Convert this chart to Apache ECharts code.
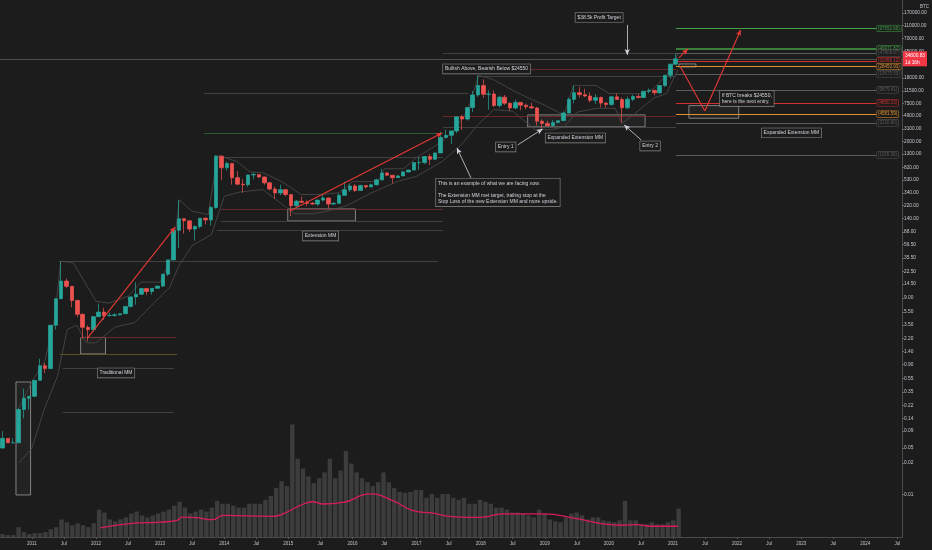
<!DOCTYPE html>
<html><head><meta charset="utf-8">
<script src="https://cdn.jsdelivr.net/npm/echarts@6/dist/echarts.min.js"></script>
<style>html,body{margin:0;background:#1c1c1c}#c{width:932px;height:550px}</style>
</head><body><div id="c"></div><script>
// ---------------- DATA ----------------
const firstMonth = [2010, 7];
const opens = [
 0.05,0.07,0.06,0.06,0.19,0.28,
 0.30,0.52,0.86,0.78,3.50,8.70,16.10,13.40,8.20,5.10,3.25,3.00,
 4.70,5.50,4.90,4.90,5.00,5.20,6.70,9.30,10.20,12.40,11.20,12.50,
 13.50,20.40,33.40,93.0,139.0,129.0,97.0,106.0,141.0,133.0,204.0,1205.0,
 805,938,573,458,448,630,640,586,479,386,338,378,
 320,217,254,244,236,230,264,284,230,236,311,377,
 430,368,436,416,448,531,673,624,573,608,699,744,
 964,965,1190,1080,1348,2300,2480,2875,4700,4340,6470,10000,
 13850,10220,10320,6930,9240,7500,6390,7730,7010,6630,6370,4040,
 3740,3460,3850,4110,5350,8580,10820,10090,9630,8300,9150,7550,
 7190,9350,8540,6410,8620,9450,9140,11350,11650,10780,13800,19700,
 28990];
const highs = [
 0.09,0.07,0.07,0.20,0.39,0.30,
 0.52,1.10,0.95,3.50,8.90,31.90,17.50,13.50,8.50,5.20,3.50,4.80,
 7.40,6.40,5.40,5.30,5.20,6.80,9.40,15.40,12.50,12.50,12.60,13.70,
 20.60,33.40,95.0,266.0,140.0,130.0,110.0,141.0,146.0,216.0,1242.0,1240.0,
 1000,940,720,545,635,680,640,595,495,420,450,385,
 320,265,300,262,247,268,318,287,245,334,500,467,
 462,448,440,466,550,780,704,626,627,720,755,975,
 1150,1200,1300,1350,2790,3000,2930,4750,4980,6470,11400,19670,
 17170,11790,11700,9760,9980,7760,8500,7760,7410,7680,6600,4290,
 4110,4190,4140,5640,9070,13880,13200,12330,10900,10370,9520,7740,
 9580,10500,9190,9470,10080,10380,11450,12480,12080,14100,19860,29300,
 41950];
const lows = [
 0.05,0.06,0.06,0.06,0.14,0.19,
 0.29,0.52,0.67,0.78,3.00,8.70,12.50,6.50,4.60,2.20,2.00,2.80,
 4.70,4.20,4.70,4.70,4.90,5.20,6.40,7.10,9.90,9.90,10.10,12.50,
 13.20,19.20,33.40,50.0,83.0,88.0,65.0,99.0,114.0,109.0,196.0,522.0,
 735,450,440,340,420,540,565,450,370,275,312,300,
 152,210,240,214,225,217,252,198,225,235,304,350,
 350,365,395,412,437,516,605,470,570,604,685,742,
 752,915,890,1060,1340,2270,1840,2670,2970,4110,5560,9400,
 9100,6000,6600,6430,7060,5760,6070,5880,6100,6200,3470,3120,
 3390,3370,3760,4080,5330,7500,9100,9360,7730,7300,6520,6430,
 6850,8450,3850,6150,8110,8900,8990,10560,9850,10420,13240,17570,
 28000];
const closes = [
 0.07,0.06,0.06,0.19,0.28,0.30,
 0.52,0.86,0.78,3.50,8.70,16.10,13.40,8.20,5.10,3.25,3.00,4.70,
 5.50,4.90,4.90,5.00,5.20,6.70,9.30,10.20,12.40,11.20,12.50,13.50,
 20.40,33.40,93.0,139.0,129.0,97.0,106.0,141.0,133.0,204.0,1205.0,805.0,
 938,573,458,448,630,640,586,479,386,338,378,320,
 217,254,244,236,230,264,284,230,236,311,377,430,
 368,436,416,448,531,673,624,573,608,699,744,964,
 965,1190,1080,1348,2300,2480,2875,4700,4340,6470,10000,13850,
 10220,10320,6930,9240,7500,6390,7730,7010,6630,6370,4040,3740,
 3460,3850,4110,5350,8580,10820,10090,9630,8300,9150,7550,7190,
 9350,8540,6410,8620,9450,9140,11350,11650,10780,13800,19700,28990,
 34800.83];
const volumes = [
 3,2,2,10,5,3,
 4,4,5,8,10,18,15,12,14,12,10,14,
 28,25,18,16,18,20,24,26,22,20,22,24,
 26,28,32,36,30,24,26,28,26,30,37,34,
 34,32,30,30,34,34,34,38,42,50,57,52,
 115,80,70,62,55,60,66,80,60,68,88,75,
 66,60,56,52,56,66,56,50,46,45,46,48,
 48,40,44,40,44,44,40,38,40,34,34,38,
 36,34,30,30,28,25,25,24,22,20,28,24,
 18,16,15,20,24,25,22,18,20,20,17,16,
 15,17,37,17,17,13,13,15,13,13,15,17,
 29];
const volMA = [[2012.06,9.3],[2012.52,13.7],[2012.99,15.3],[2013.25,17],[2013.33,20.3],[2013.56,19.7],[2013.81,17.7],[2013.97,22],[2014.74,21],[2014.90,23.7],[2015.16,32],[2015.36,36],[2015.52,33.7],[2015.83,35.3],[2016.25,44],[2016.61,37],[2016.92,27],[2017.23,24.3],[2017.49,21],[2017.80,20],[2018.00,20.3],[2018.31,23.7],[2018.93,23.7],[2019.46,18.7],[2019.81,14],[2020.17,12],[2020.39,12.7],[2020.60,11],[2021.03,11]];
const upperBand = [[2010.8,0.2],[2011.0,0.5],[2011.2,1.0],[2011.35,4.0],[2011.45,32],[2011.65,30],[2011.8,17],[2012.0,8],[2012.2,7.5],[2012.5,9.5],[2012.7,15.5],[2013.0,15.5],[2013.2,40],[2013.3,266],[2013.5,180],[2013.75,160],[2013.9,1240],[2014.2,1000],[2014.4,700],[2014.6,680],[2014.9,500],[2015.2,320],[2015.5,320],[2015.8,340],[2016.0,500],[2016.4,500],[2016.5,780],[2016.8,780],[2017.0,1150],[2017.4,2000],[2017.6,3000],[2017.8,6000],[2017.97,19700],[2018.2,17000],[2018.5,11700],[2018.8,8500],[2019.0,7000],[2019.3,5000],[2019.45,13900],[2019.8,13900],[2020.0,10500],[2020.2,10500],[2020.5,10400],[2020.7,12500],[2020.9,19900],[2021.0,29500],[2021.08,42000]];
const lowerBand = [[2010.8,0.03],[2011.0,0.05],[2011.2,0.2],[2011.4,0.6],[2011.55,3.0],[2011.7,3.5],[2011.85,1.9],[2012.0,1.9],[2012.3,3.3],[2012.6,3.8],[2012.9,7.5],[2013.15,13],[2013.3,28],[2013.5,55],[2013.8,80],[2014.0,300],[2014.25,350],[2014.6,380],[2014.9,230],[2015.1,165],[2015.4,165],[2015.65,185],[2015.9,215],[2016.3,340],[2016.7,500],[2017.0,600],[2017.4,1000],[2017.7,1800],[2017.95,3500],[2018.2,6000],[2018.5,5700],[2018.85,3000],[2019.1,3000],[2019.3,3300],[2019.5,5500],[2019.8,6300],[2020.1,6300],[2020.2,3700],[2020.4,5200],[2020.7,9000],[2020.9,10500],[2021.0,17000],[2021.08,24000]];
const yTickValues = [170000,110000,70000,45000,18000,11500,7500,4900,3100,2000,1300,820,530,340,220,140,88,56.5,35.5,22.5,14.5,9,5.5,3.5,2.2,1.4,0.9,0.55,0.35,0.22,0.14,0.09,0.05,0.03,0.01];
const yTickTexts = ['170000.00','110000.00','70000.00','45000.00','18000.00','11500.00','7500.00','4900.00','3100.00','2000.00','1300.00','820.00','530.00','340.00','220.00','140.00','88.00','56.50','35.50','22.50','14.50','9.00','5.50','3.50','2.20','1.40','0.90','0.55','0.35','0.22','0.14','0.09','0.05','0.02','0.01'];
const xTickValues = [2011,2011.5,2012,2012.5,2013,2013.5,2014,2014.5,2015,2015.5,2016,2016.5,2017,2017.5,2018,2018.5,2019,2019.5,2020,2020.5,2021,2021.5,2022,2022.5,2023,2023.5,2024,2024.5];
const lastPrice = 34800.83;
const lastPriceTimer = '1d 16h';
// horizontal levels [fromYear, toYear, price]
const segGray = [[2011.419,2017.335,31.9],[2011.481,2013.220,0.80],[2011.481,2013.220,0.174],[2013.888,2017.413,1161],[2013.686,2017.801,10720],[2013.95,2017.413,128.3],[2013.888,2017.413,94],[2017.413,2021.047,42700],[2017.957,2021.047,19300],[2017.413,2021.047,3310]];
const segGreen = [[2013.686,2017.413,2690]];
const segRed = [[2011.745,2013.252,2.29],[2013.95,2017.413,194],[2017.413,2021.047,24550],[2017.413,2021.047,4842]];
const segOrange = [[2011.435,2013.267,1.29]];
const levelFrom = 2021.047, levelTo = 2024.168;
const levelPrices = [99600,49000,42700,32400,26700,20650,11900,7590,5150,3800,1258];
const levelTexts = ['(97652.60)','(49971.82)','(47808.87)','(32456.12)','(28453.93)','(19675.50)','(9875.41)','(4850.23)','(4581.59)','(3130.80)','(1165.99)'];
const levelKinds = ['green','green','gray','red','orange','gray','gray','red','orange','gray','gray'];
// drawings in data space
const redArrows = [[[2011.870,2.25],[2013.236,104.3]],[[2015.022,181.4],[2017.398,2690]],[[2021.093,35950],[2021.233,49000]],[[2021.109,27240],[2021.497,5754],[2022.056,94500]]];
const whiteArrows = [[[2020.286,112400],[2020.286,39860]],[[2018.578,1776],[2018.966,3089]],[[2020.503,2111],[2020.239,3547]],[[2017.848,568],[2017.630,1601]]];
const boxes = [[2010.752,0.491,2010.980,0.0099],[2011.761,2.29,2012.149,1.294],[2014.991,194.4,2016.047,128.3],[2018.733,5016,2020.565,3310],[2021.248,6912,2022.025,4470],[2021.093,29220,2021.357,26330]];
const noteAnchors = [[2019.478,145900],[2017.413,24540],[2018.236,1657],[2019.012,2262],[2020.488,1716],[2012.025,0.671],[2015.224,76.4],[2017.304,343.7],[2021.730,8862],[2022.382,2690]];
const noteTexts = ['$38.5k Profit Target','Bullish Above, Bearish Below $24550','Entry 1','Expanded Extension MM','Entry 2','Traditional MM','Extension MM',
 'This is an example of what we are facing now.\n\nThe Extension MM met target, trailing stop at the\nStop Loss of the new Extension MM and more upside.',
 'If BTC breaks $24550,\nhere is the next entry.','Expanded Extension MM'];

// ---------------- BUILD ----------------
const BG='#1c1c1c', UP='#26a69a', DOWN='#ef5350', TXT='#c3c6cd', FONT='Liberation Sans';
const monthTimes = opens.map((_, i) => {
  const m0 = firstMonth[1] - 1 + i;
  const y = firstMonth[0] + Math.floor(m0 / 12), m = m0 % 12;
  return y + (m + 0.5) / 12;
});
const candleData = monthTimes.map((t, i) => [t, opens[i], closes[i], lows[i], highs[i]]);
const volData = monthTimes.map((t, i) => [t, volumes[i]]);
const kindColor = {gray:'#5c5c5c', green:'#43a047', red:'#d32f2f', orange:'#e0912b'};
const faint = {gray:'#4a4a4a', green:'#2f6b33', red:'#7a2b2b', orange:'#6f5a28'};
function seg(list, color, w) {
  return list.map(s => [{coord:[s[0], s[2]], symbol:'none', lineStyle:{color, width:w||0.8, type:'solid'}}, {coord:[s[1], s[2]], symbol:'none'}]);
}
const markLines = [].concat(
  seg(segGray, faint.gray), seg(segGreen, faint.green), seg(segRed, faint.red), seg(segOrange, faint.orange),
  levelPrices.map((p, i) => {
    const c = kindColor[levelKinds[i]];
    return [{coord:[levelFrom, p], symbol:'none', lineStyle:{color:c, width: i===1?1.6:1, type:'solid'},
             label:{show:true, position:'end', distance:1, formatter:levelTexts[i], color:c, fontSize:4.5, fontFamily:FONT,
                    backgroundColor:BG, borderColor:c, borderWidth:0.5, padding:[0.5,1]}},
            {coord:[levelTo, p], symbol:'none'}];
  })
);
function arrowLines(list, color, w) {
  const out = [];
  list.forEach(path => {
    for (let k = 0; k < path.length - 1; k++) {
      const last = k === path.length - 2;
      out.push([{coord:path[k], symbol:'none', lineStyle:{color, width:w, type:'solid'}},
                {coord:path[k+1], symbol: last ? 'arrow' : 'none', symbolSize: last ? [4,6] : 0}]);
    }
  });
  return out;
}
const drawLines = [].concat(arrowLines(redArrows, '#e53935', 1.1), arrowLines(whiteArrows, '#d1d4dc', 0.8));
const areaData = boxes.map(b => [{coord:[b[0], b[1]]}, {coord:[b[2], b[3]]}]);
const notePoints = noteAnchors.map((a, i) => ({coord:a, label:{formatter:noteTexts[i]}}));

const chart = echarts.init(document.getElementById('c'), null, {renderer:'canvas'});
chart.setOption({
  backgroundColor: BG,
  animation: false,
  grid: [
    {left:0, right:26, top:0, bottom:13},
    {left:0, right:26, top:400, bottom:13}
  ],
  xAxis: [
    {type:'value', gridIndex:0, min:2010.503, max:2024.572, splitLine:{show:false},
     axisLine:{show:true, lineStyle:{color:'#4a4a4a', width:1}},
     axisTick:{show:true, customValues:xTickValues, length:2, lineStyle:{color:'#555'}},
     axisLabel:{customValues:xTickValues, color:TXT, fontSize:4.5, fontFamily:FONT, margin:4,
       formatter: v => (Math.abs(v - Math.round(v)) < 1e-6 ? String(Math.round(v)) : 'Jul')}},
    {type:'value', gridIndex:1, min:2010.503, max:2024.572, show:false}
  ],
  yAxis: [
    {type:'log', gridIndex:0, position:'right', min:0.002315, max:266000, splitLine:{show:false},
     name:'BTC', nameLocation:'end', nameGap:-9, nameTextStyle:{color:TXT, fontSize:4.5, fontFamily:FONT, align:'left', padding:[0,0,0,18]},
     axisLine:{show:true, lineStyle:{color:'#4a4a4a', width:1}},
     axisTick:{show:true, customValues:yTickValues, length:2, lineStyle:{color:'#666'}},
     axisLabel:{customValues:yTickValues, color:TXT, fontSize:4.8, fontFamily:FONT, margin:2,
       formatter: v => { let bi = 0, bd = Infinity; yTickValues.forEach((t, i) => { const d = Math.abs(Math.log(t) - Math.log(v)); if (d < bd) { bd = d; bi = i; } }); return yTickTexts[bi]; }}},
    {type:'value', gridIndex:1, min:0, max:140, show:false, splitLine:{show:false}}
  ],
  series: [
    {type:'bar', xAxisIndex:1, yAxisIndex:1, data:volData, barWidth:4.4, itemStyle:{color:'#3c3c3c'}, z:1, silent:true},
    {type:'line', xAxisIndex:1, yAxisIndex:1, data:volMA, smooth:true, showSymbol:false, lineStyle:{color:'#d81b60', width:1.3}, z:2, silent:true},
    {type:'line', xAxisIndex:0, yAxisIndex:0, data:upperBand, showSymbol:false, lineStyle:{color:'#4b4b4b', width:0.8}, z:3, silent:true,
     markLine:{silent:true, symbol:['none','none'], label:{show:false}, data:markLines, animation:false},
     markArea:{silent:true, itemStyle:{color:'rgba(255,255,255,0.03)', borderColor:'#9a9a9a', borderWidth:0.8}, data:areaData}},
    {type:'line', xAxisIndex:0, yAxisIndex:0, data:lowerBand, showSymbol:false, lineStyle:{color:'#4b4b4b', width:0.8}, z:3, silent:true,
     markLine:{silent:true, symbol:['none','none'], label:{show:false}, data:drawLines, animation:false, z:8},
     markPoint:{silent:true, symbol:'rect', symbolSize:0, data:notePoints,
       label:{show:true, position:'right', distance:0, color:'#d1d4dc', fontSize:5, lineHeight:6.2, fontFamily:FONT,
              backgroundColor:'rgba(28,28,28,0.92)', borderColor:'#8a8a8a', borderWidth:0.6, padding:[1.5,2,1.5,2], align:'left'}}},
    {type:'candlestick', xAxisIndex:0, yAxisIndex:0, barWidth:4, data:candleData,
     dimensions:['t','open','close','lowest','highest'], encode:{x:0, y:[1,2,3,4]},
     itemStyle:{color:UP, color0:DOWN, borderColor:UP, borderColor0:DOWN, borderWidth:0.7}, z:5,
     markLine:{silent:true, symbol:['none','none'], data:[{yAxis:lastPrice, lineStyle:{color:'#4e4e4e', type:'solid', width:1},
       label:{show:true, position:'end', distance:1, formatter: lastPrice.toFixed(2) + '\n' + lastPriceTimer, color:'#fff', fontSize:4.8, lineHeight:7, fontFamily:FONT,
              backgroundColor:'#f23645', padding:[0.5,2]}}]}}
  ]
});
</script></body></html>
